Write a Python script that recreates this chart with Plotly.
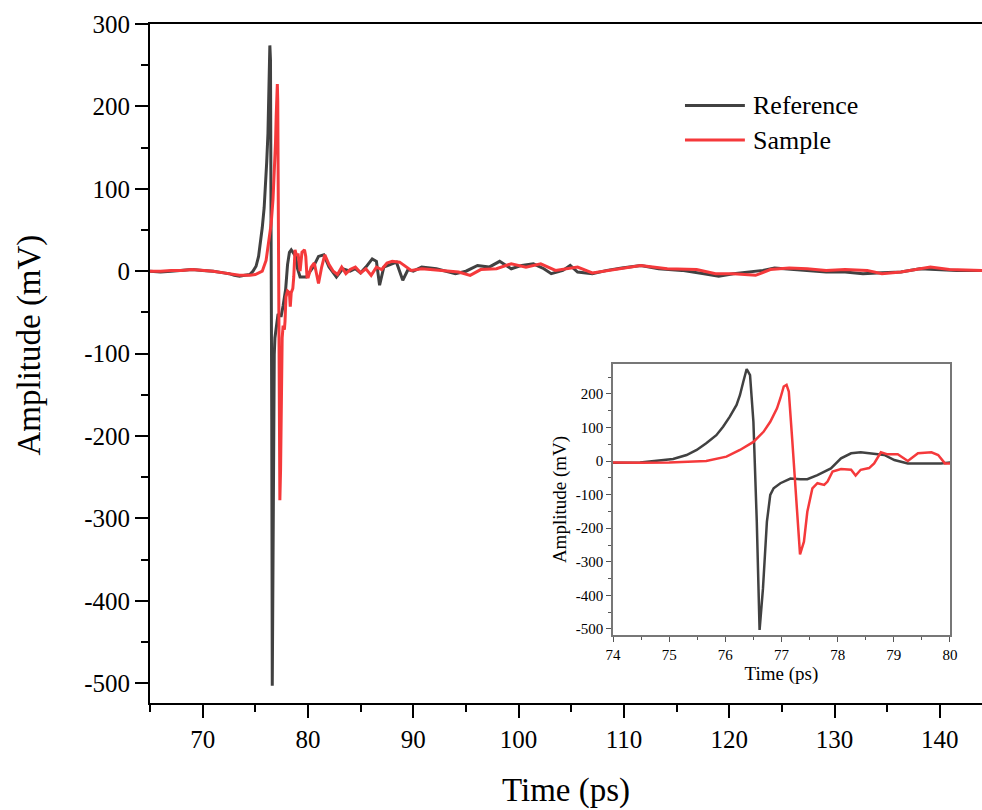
import plotly.graph_objects as go

# ---------------- data ----------------
ref_t = [65, 66, 67, 68, 69, 70, 71, 72, 72.5, 73, 73.5, 74, 74.48, 74.77, 75.07, 75.31, 75.49,
         75.66, 75.84, 75.96, 76.08, 76.2, 76.26, 76.32, 76.38, 76.44, 76.5, 76.56, 76.61,
         76.67, 76.74, 76.8, 76.86, 76.98, 77.16, 77.34, 77.46, 77.64, 77.88, 78.06, 78.24,
         78.41, 78.65, 78.83, 79.01, 79.25, 79.54, 79.84, 80.0, 80.5, 81.0, 81.5, 82.0, 82.7,
         83.3, 84.0, 84.5, 85.0, 85.5, 86.1, 86.5, 86.8, 87.2, 87.8, 88.4, 89.0, 89.5, 90.0,
         90.8, 92.2, 94.0, 95.0, 96.1, 97.2, 98.2, 99.3, 100.3, 101.4, 102.4, 103.1, 104.2,
         104.9, 105.6, 107.0, 108.4, 109.8, 111.6, 113.3, 115.5, 117.6, 119.0, 120.4, 121.8,
         123.2, 124.3, 126.0, 127.4, 129.2, 131.0, 132.7, 134.5, 136.3, 138.1, 139.8, 141.6, 144.0]
ref_v = [0, -1, 0, 1, 2, 1, 0, -2, -3, -5, -6, -5, -4, 0, 6, 18, 33,
         53, 77, 102, 132, 167, 196, 236, 274, 256, 117, -180, -503,
         -380, -181, -101, -81, -66, -52, -54, -54, -42, -22, 8, 23,
         26, 22, 18, 3, -7, -7, -7, -4, 5, 18, 20, 5, -7,
         3, 0, 3, -2, 5, 15, 12, -17, 5, 8, 11, -11, 2, 0,
         5, 3, -3, 0, 7, 5, 12, 3, 7, 9, 3, -3, 1,
         7, -1, -3, 1, 4, 7, 3, 1, -3, -6, -3, -1,
         1, 4, 2, 1, -1, -1, -3, -2, -1, 3, 2, 1, 1]

smp_t = [65, 66, 67, 68, 69, 70, 71, 72, 73, 73.5, 74.0, 74.5, 75.0, 75.66, 76.02, 76.26, 76.5,
         76.68, 76.8, 76.92, 76.98, 77.04, 77.09, 77.13, 77.19, 77.25, 77.33, 77.4, 77.46,
         77.55, 77.64, 77.76, 77.82, 77.91, 78.06, 78.24, 78.32, 78.41, 78.56, 78.65, 78.77,
         78.89, 79.07, 79.25, 79.43, 79.67, 79.79, 79.91, 80.03, 80.3, 80.6, 81.0, 81.3, 81.6,
         82.0, 82.4, 82.8, 83.2, 83.6, 84.0, 84.5, 85.0, 85.5, 86.0, 86.5, 87.0, 87.5, 88.0,
         88.7, 89.8, 90.8, 93.0, 94.3, 95.4, 96.4, 97.9, 99.3, 100.7, 102.1, 103.5, 105.6,
         107.0, 109.1, 111.6, 114.1, 116.9, 118.7, 120.4, 122.5, 123.9, 125.7, 127.4, 129.2,
         131.0, 133.1, 134.5, 136.3, 139.1, 140.9, 142.7, 144.0]
smp_v = [0, 0, 1, 1, 2, 1, 0, -2, -4, -5, -5, -5, -4, 0, 13, 33, 57,
         87, 117, 157, 187, 222, 227, 207, 67, -81, -278, -240, -151,
         -81, -66, -71, -61, -31, -24, -26, -43, -26, -21, -7, 26,
         20, 20, 0, 23, 26, 18, -7, -7, 5, 10, -15, 5, 20,
         8, 0, -4, 5, -3, 2, 5, -2, 3, -5, 5, 2, 10, 12,
         11, 1, 3, 1, -1, -5, 2, 3, 9, 5, 9, 1, 5,
         -2, 2, 7, 3, 2, -3, -3, -5, 2, 4, 3, 1,
         2, 1, -3, -1, 5, 2, 1, 1]

series_names = ["Reference", "Sample"]
series_colors = ["#414141", "#f5393b"]

main_yticks = [300, 200, 100, 0, -100, -200, -300, -400, -500]
main_ytext = ["300", "200", "100", "0", "-100", "-200", "-300", "-400", "-500"]
main_xticks = [70, 80, 90, 100, 110, 120, 130, 140]
inset_yticks = [200, 100, 0, -100, -200, -300, -400, -500]
inset_ytext = ["200", "100", "0", "-100", "-200", "-300", "-400", "-500"]
inset_xticks = [74, 75, 76, 77, 78, 79, 80]

FONT = "Liberation Serif, Times New Roman, serif"

fig = go.Figure()
data = [(ref_t, ref_v), (smp_t, smp_v)]
for (t, v), name, col in zip(data, series_names, series_colors):
    fig.add_trace(go.Scatter(x=t, y=v, mode="lines", name=name,
                             line=dict(color=col, width=3), showlegend=False,
                             xaxis="x", yaxis="y"))
for (t, v), name, col in zip(data, series_names, series_colors):
    fig.add_trace(go.Scatter(x=t, y=v, mode="lines", name=name,
                             line=dict(color=col, width=2.5), showlegend=False,
                             xaxis="x2", yaxis="y2"))

# manual legend
leg_y = [0.880, 0.829]
for name, col, yy in zip(series_names, series_colors, leg_y):
    fig.add_shape(type="line", xref="paper", yref="paper", x0=0.643, x1=0.715, y0=yy, y1=yy,
                  line=dict(color=col, width=3))
    fig.add_annotation(xref="paper", yref="paper", x=0.722, y=yy, text=name, showarrow=False,
                       xanchor="left", yanchor="middle", font=dict(family=FONT, size=26, color="black"))

# main y-axis title
fig.add_annotation(xref="paper", yref="paper", x=-0.145, y=0.527, text="Amplitude (mV)",
                   textangle=-90, showarrow=False, xanchor="center", yanchor="middle",
                   font=dict(family=FONT, size=33, color="black"))

fig.update_layout(
    width=982, height=810,
    margin=dict(l=150, r=0, t=24, b=107, autoexpand=False),
    paper_bgcolor="white", plot_bgcolor="white",
    font=dict(family=FONT, color="black"),
    xaxis=dict(domain=[0, 1], range=[65, 144], showgrid=False, zeroline=False, automargin=False,
               showline=True, linecolor="black", linewidth=2, mirror=True,
               ticks="outside", ticklen=13, tickwidth=2, tickcolor="black",
               tickvals=main_xticks, tickfont=dict(family=FONT, size=25),
               minor=dict(dtick=5, ticklen=7, tickwidth=2, tickcolor="black", ticks="outside", showgrid=False),
               title=dict(text="Time (ps)", font=dict(family=FONT, size=33), standoff=26)),
    yaxis=dict(domain=[0, 1], range=[-524, 300], showgrid=False, zeroline=False, automargin=False,
               showline=True, linecolor="black", linewidth=2, mirror=False,
               ticks="outside", ticklen=13, tickwidth=2, tickcolor="black",
               tickvals=main_yticks, ticktext=main_ytext, tickfont=dict(family=FONT, size=25),
               minor=dict(dtick=50, ticklen=7, tickwidth=2, tickcolor="black", ticks="outside", showgrid=False)),
    xaxis2=dict(domain=[0.5565, 0.9615], anchor="y2", range=[74, 80], showgrid=False, zeroline=False,
                showline=True, linecolor="#777777", linewidth=1.5, mirror=True,
                ticks="outside", ticklen=5, tickwidth=1.2, tickcolor="#555555",
                tickvals=inset_xticks, tickfont=dict(family=FONT, size=15),
                minor=dict(dtick=0.5, ticklen=3, tickwidth=1.2, tickcolor="#555555", ticks="outside", showgrid=False),
                title=dict(text="Time (ps)", font=dict(family=FONT, size=19), standoff=0)),
    yaxis2=dict(domain=[0.1001, 0.4993], anchor="x2", range=[-518, 289], showgrid=False, zeroline=False,
                showline=True, linecolor="#777777", linewidth=1.5, mirror=True,
                ticks="outside", ticklen=5, tickwidth=1.2, tickcolor="#555555",
                tickvals=inset_yticks, ticktext=inset_ytext, tickfont=dict(family=FONT, size=15),
                minor=dict(dtick=50, ticklen=3, tickwidth=1.2, tickcolor="#555555", ticks="outside", showgrid=False),
                title=dict(text="Amplitude (mV)", font=dict(family=FONT, size=19), standoff=4)),
)

fig.write_html("out.html")
